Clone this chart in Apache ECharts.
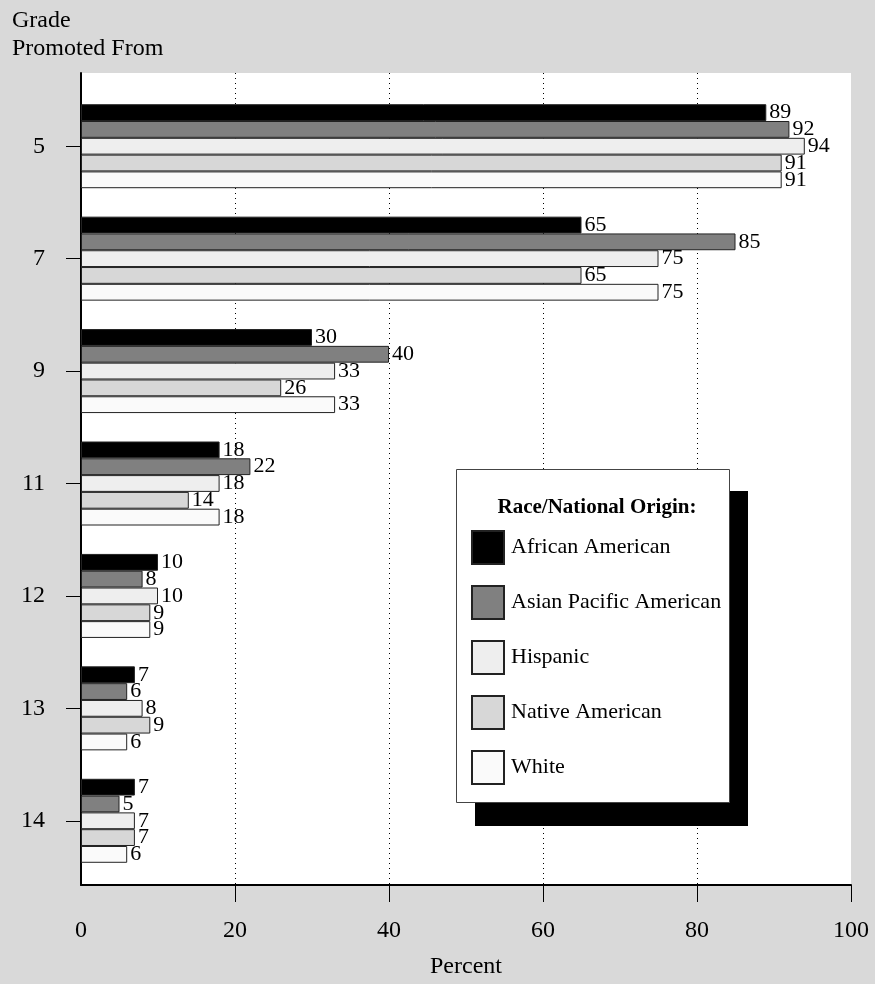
<!DOCTYPE html>
<html>
<head>
<meta charset="utf-8">
<script src="https://cdn.jsdelivr.net/npm/echarts@6/dist/echarts.min.js"></script>
<style>
  html, body { margin: 0; padding: 0; background: #d9d9d9; }
  #chart { width: 875px; height: 984px; }
</style>
</head>
<body>
<div id="chart"></div>
<script>
// Grades from which students were promoted
const grades = ['5', '7', '9', '11', '12', '13', '14'];

// Percent promoted, by race / national origin
const africanAmerican      = [89, 65, 30, 18, 10, 7, 7];
const asianPacificAmerican = [92, 85, 40, 22, 8, 6, 5];
const hispanic             = [94, 75, 33, 18, 10, 8, 7];
const nativeAmerican       = [91, 65, 26, 14, 9, 9, 7];
const white                = [91, 75, 33, 18, 9, 6, 6];

const percentTicks = [20, 40, 60, 80, 100];

const SERIF = "'Liberation Serif', 'Times New Roman', 'DejaVu Serif', serif";

const groups = [
  { name: 'African American',      data: africanAmerican,      color: '#000000' },
  { name: 'Asian Pacific American', data: asianPacificAmerican, color: '#808080' },
  { name: 'Hispanic',              data: hispanic,             color: '#eeeeee' },
  { name: 'Native American',       data: nativeAmerican,       color: '#d7d7d7' },
  { name: 'White',                 data: white,                color: '#fafafa' }
];

const chart = echarts.init(document.getElementById('chart'), null, { renderer: 'canvas' });

const option = {
  backgroundColor: '#d9d9d9',
  animation: false,
  textStyle: { fontFamily: SERIF, color: '#000' },
  title: [
    {
      text: 'Grade\nPromoted From',
      left: 12, top: 7, padding: 0,
      textStyle: { fontFamily: SERIF, fontSize: 24, fontWeight: 'normal', color: '#000', lineHeight: 28 }
    },
    {
      text: 'Race/National Origin:',
      left: 592, top: 492, textAlign: 'center', z: 20,
      textStyle: { fontFamily: SERIF, fontSize: 21, fontWeight: 'bold', color: '#000' }
    }
  ],
  legend: {
    orient: 'vertical',
    left: 471, top: 530,
    padding: 0,
    itemWidth: 32, itemHeight: 33, itemGap: 20,
    icon: 'rect',
    z: 20,
    textStyle: { fontFamily: SERIF, fontSize: 22, color: '#000', padding: [0, 0, 0, 2] },
    data: groups.map(g => g.name)
  },
  graphic: [
    // legend panel and its offset black shadow
    { type: 'rect', z: 9, shape: { x: 475, y: 491, width: 273, height: 335 }, style: { fill: '#000' } },
    { type: 'rect', z: 10, shape: { x: 456.5, y: 469.5, width: 273, height: 333 }, style: { fill: '#fff', stroke: '#444', lineWidth: 1 } }
  ],
  grid: [
    // frame of the plot: white area, axes and dotted grid lines
    { left: 81, right: 24, top: 73, bottom: 92, show: true, backgroundColor: '#fff', borderWidth: 0, containLabel: false },
    // bars
    { left: 81, right: 24, top: 90, bottom: 107, containLabel: false }
  ],
  xAxis: [
    {
      gridIndex: 0, type: 'value', min: 0, max: 100, interval: 20,
      axisLine: { show: true, lineStyle: { color: '#000', width: 2 } },
      axisTick: { show: true, customValues: percentTicks, length: 17, lineStyle: { color: '#000', width: 1 } },
      axisLabel: { fontFamily: SERIF, fontSize: 24, color: '#000', margin: 34 },
      splitLine: { show: true, showMaxLine: false, lineStyle: { color: '#000', width: 1, type: [1, 4] } },
      name: 'Percent', nameLocation: 'middle', nameGap: 70,
      nameTextStyle: { fontFamily: SERIF, fontSize: 24, color: '#000' }
    },
    { gridIndex: 1, type: 'value', min: 0, max: 100, show: false }
  ],
  yAxis: [
    {
      gridIndex: 0, type: 'value', min: 0, max: 1,
      axisLine: { show: true, lineStyle: { color: '#000', width: 2 } },
      axisTick: { show: false }, axisLabel: { show: false }, splitLine: { show: false }
    },
    {
      gridIndex: 1, type: 'category', data: grades, inverse: true,
      axisLine: { show: false },
      axisTick: { show: true, alignWithLabel: true, length: 15, lineStyle: { color: '#000', width: 1 } },
      axisLabel: { fontFamily: SERIF, fontSize: 24, color: '#000', margin: 36 },
      splitLine: { show: false }
    }
  ],
  series: groups.map(g => ({
    name: g.name,
    type: 'bar',
    xAxisIndex: 1, yAxisIndex: 1,
    data: g.data,
    barWidth: 16.8,
    barGap: '0%',
    itemStyle: { color: g.color, borderColor: '#222', borderWidth: 1 },
    label: {
      show: true, position: 'right', distance: 3,
      fontFamily: SERIF, fontSize: 22, color: '#000'
    }
  }))
};

chart.setOption(option);
</script>
</body>
</html>
